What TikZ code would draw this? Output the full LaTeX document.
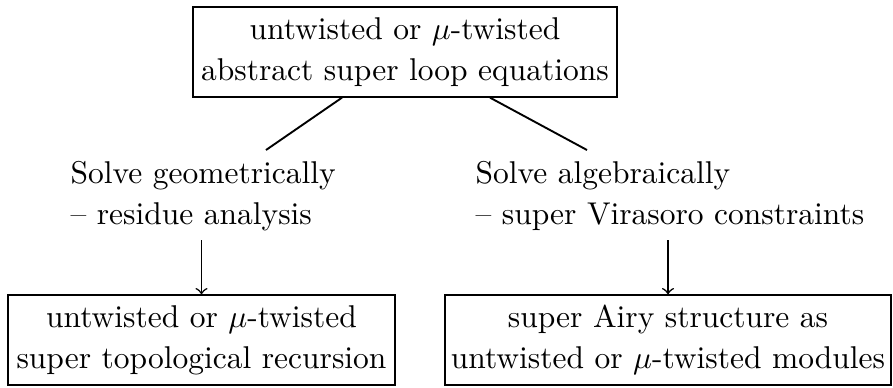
\documentclass[tikz,border=0pt]{standalone}
\usetikzlibrary{calc}
\begin{document}
\begin{tikzpicture}[x=0.3175pt,y=-0.3175pt,
  boxnode/.style={draw, inner sep=0pt, align=center, font=\fontsize{10}{13}\selectfont},
  plaintext/.style={inner sep=0pt, align=left, anchor=north west, font=\fontsize{10}{13}\selectfont},
  conn/.style={line width=0.6pt},
  arr/.style={->, line width=0.5pt}]
\useasboundingbox (0,0) rectangle (893,387);
\node[boxnode, minimum width=424*0.3175pt, minimum height=90*0.3175pt] (top) at (405,52)
  {untwisted or $\mu$-twisted\\abstract super loop equations};
\node[plaintext] (geo) at (70,161) {Solve geometrically\\-- residue analysis};
\node[plaintext] (alg) at (475,161) {Solve algebraically\\-- super Virasoro constraints};
\node[boxnode, minimum width=387*0.3175pt, minimum height=90*0.3175pt] (bl) at (201.5,340)
  {untwisted or $\mu$-twisted\\super topological recursion};
\node[boxnode, minimum width=446*0.3175pt, minimum height=90*0.3175pt] (br) at (668,340)
  {super Airy structure as\\untwisted or $\mu$-twisted modules};
\coordinate (gl) at (266,150);
\coordinate (gr) at (587,150);
\coordinate (al) at (201.5,240);
\coordinate (ar) at (668,240);
\draw[conn] ($(top.south)+(-63,0)$) -- (gl);
\draw[conn] ($(top.south)+(85,0)$) -- (gr);
\draw[arr] (al) -- (bl.north);
\draw[arr] (ar) -- (br.north);
\end{tikzpicture}
\end{document}
